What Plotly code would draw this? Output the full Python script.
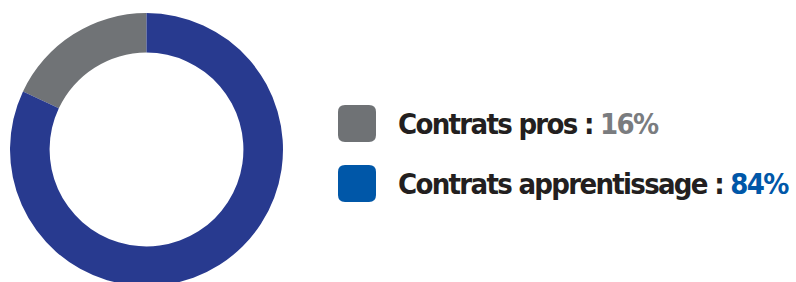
import plotly.graph_objects as go

# Data
categories = ["Contrats pros", "Contrats apprentissage"]
slice_values = [18, 82]          # slice sizes as drawn in the picture
label_values = ["16%", "84%"]    # percentages as printed in the legend
slice_colors = ["#707376", "#283a8f"]
legend_colors = ["#6f7275", "#0057a8"]
value_text_colors = ["#7a7c7f", "#0057a8"]

W, H = 796, 300  # figure slightly taller than window: donut is clipped at the bottom

def px_x(x):
    return x / W

def px_y(y):
    return (H - y) / H

fig = go.Figure()
fig.add_trace(go.Pie(
    labels=categories,
    values=slice_values,
    sort=False,
    direction="clockwise",
    rotation=-slice_values[0] * 3.6,
    hole=0.71,
    marker=dict(colors=slice_colors, line=dict(width=0)),
    textinfo="none",
    hoverinfo="label+value",
    showlegend=False,
    domain=dict(x=[px_x(10), px_x(283)], y=[px_y(286), px_y(13)]),
))

shapes = []
annotations = []
square_tops = [105, 165]
for i, (cat, val) in enumerate(zip(categories, label_values)):
    top = square_tops[i]
    x0, x1, y0, y1 = 338, 376, top, top + 37
    r = 7
    path = (f"M {x0 + r},{y0} L {x1 - r},{y0} Q {x1},{y0} {x1},{y0 + r} "
            f"L {x1},{y1 - r} Q {x1},{y1} {x1 - r},{y1} L {x0 + r},{y1} "
            f"Q {x0},{y1} {x0},{y1 - r} L {x0},{y0 + r} Q {x0},{y0} {x0 + r},{y0} Z")
    shapes.append(dict(type="path", xref="x", yref="y", path=path,
                       fillcolor=legend_colors[i], line=dict(width=0), layer="above"))
    annotations.append(dict(
        x=396, y=top + 18.5, xref="x", yref="y",
        xanchor="left", yanchor="middle", showarrow=False,
        text=(f"<span style='letter-spacing:-1.7px'><b>{cat} : "
              f"<span style='color:{value_text_colors[i]}'>{val}</span></b></span>"),
        font=dict(family="DejaVu Sans Condensed", size=29, color="#231f20"),
    ))

fig.update_layout(
    width=W, height=H,
    margin=dict(l=0, r=0, t=0, b=0),
    paper_bgcolor="white", plot_bgcolor="rgba(0,0,0,0)",
    xaxis=dict(range=[0, W], visible=False, fixedrange=True),
    yaxis=dict(range=[H, 0], visible=False, fixedrange=True),
    shapes=shapes,
    annotations=annotations,
)

fig.write_html("out.html", config={"displayModeBar": False},
               post_script="document.body.style.margin='0';document.body.style.overflow='hidden';")
